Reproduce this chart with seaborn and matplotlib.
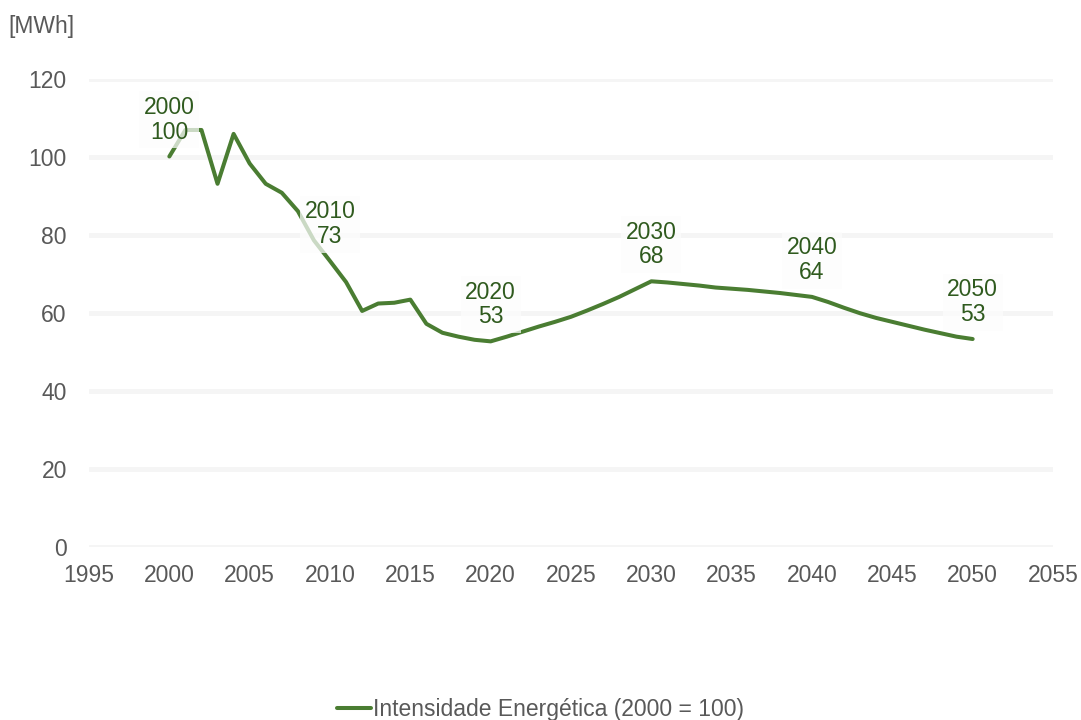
import matplotlib
matplotlib.use("Agg")
import matplotlib.pyplot as plt
import seaborn as sns
import pandas as pd

# Energy intensity index (2000 = 100), yearly history and projection
years = list(range(2000, 2051))
intensity = [
    100.0, 106.8, 106.8, 93.0, 105.8, 98.2, 93.0, 90.7, 86.0, 78.5,
    73.2, 67.8, 60.4, 62.3, 62.5, 63.3, 57.1, 54.8, 53.8, 53.0,
    52.6, 53.8, 55.1, 56.4, 57.6, 58.9, 60.5, 62.2, 64.0, 66.0,
    68.0, 67.7, 67.3, 66.9, 66.4, 66.1, 65.8, 65.4, 65.0, 64.5,
    64.0, 62.7, 61.2, 59.8, 58.6, 57.6, 56.6, 55.6, 54.7, 53.8,
    53.2,
]
label_years = [2000, 2010, 2020, 2030, 2040, 2050]
series_name = "Intensidade Energética (2000 = 100)"
unit_label = "[MWh]"
x_ticks = list(range(1995, 2056, 5))
y_ticks = [0, 20, 40, 60, 80, 100, 120]

line_color = "#4a7d32"
label_color = "#2f5a1e"
text_gray = "#595959"
fs = 16.5

df = pd.DataFrame({"Ano": years, "Indice": intensity})

sns.set_theme(style="white")
plt.rcParams["font.family"] = ["Liberation Sans", "DejaVu Sans"]

W, H = 1081, 720
fig = plt.figure(figsize=(W / 100, H / 100), dpi=100)
left, right, top, bottom = 89, 1053, 78.5, 546.5
ax = fig.add_axes([left / W, 1 - bottom / H, (right - left) / W, (bottom - top) / H])

sns.lineplot(data=df, x="Ano", y="Indice", ax=ax, color=line_color,
             linewidth=2.9, label=series_name, zorder=3)

ax.set_xlim(1995, 2055)
ax.set_ylim(0, 120)
ax.set_xticks(x_ticks)
ax.set_yticks(y_ticks)
ax.set_xlabel("")
ax.set_ylabel("")
for s in ax.spines.values():
    s.set_visible(False)
ax.grid(axis="y", color="#f5f5f5", linewidth=3.5, zorder=0)
ax.grid(axis="x", visible=False)
ax.set_axisbelow(True)
ax.tick_params(axis="both", length=0, labelsize=fs, labelcolor=text_gray)
ax.tick_params(axis="y", pad=16)
ax.tick_params(axis="x", pad=12.5)

# Year / value call-outs every decade
for yr in label_years:
    val = intensity[years.index(yr)]
    ax.annotate(f"{yr}\n{val:.0f}", xy=(yr, val), xytext=(0, 26.5),
                textcoords="offset points", ha="center", va="center",
                fontsize=fs, color=label_color, linespacing=1.1,
                bbox=dict(boxstyle="square,pad=0.2", facecolor="#fdfdfd",
                          edgecolor="none", alpha=0.72),
                zorder=5)

ax.get_legend().remove()
handles, labels = ax.get_legend_handles_labels()
leg = fig.legend(handles, labels, loc="lower center", bbox_to_anchor=(0.5, -0.03),
                 frameon=False, fontsize=fs, handlelength=1.5, handletextpad=0.1)
for t in leg.get_texts():
    t.set_color(text_gray)

fig.text(8 / W, 1 - 27 / H, unit_label, fontsize=fs, color=text_gray,
         ha="left", va="center")

fig.savefig("out.png", dpi=100)
